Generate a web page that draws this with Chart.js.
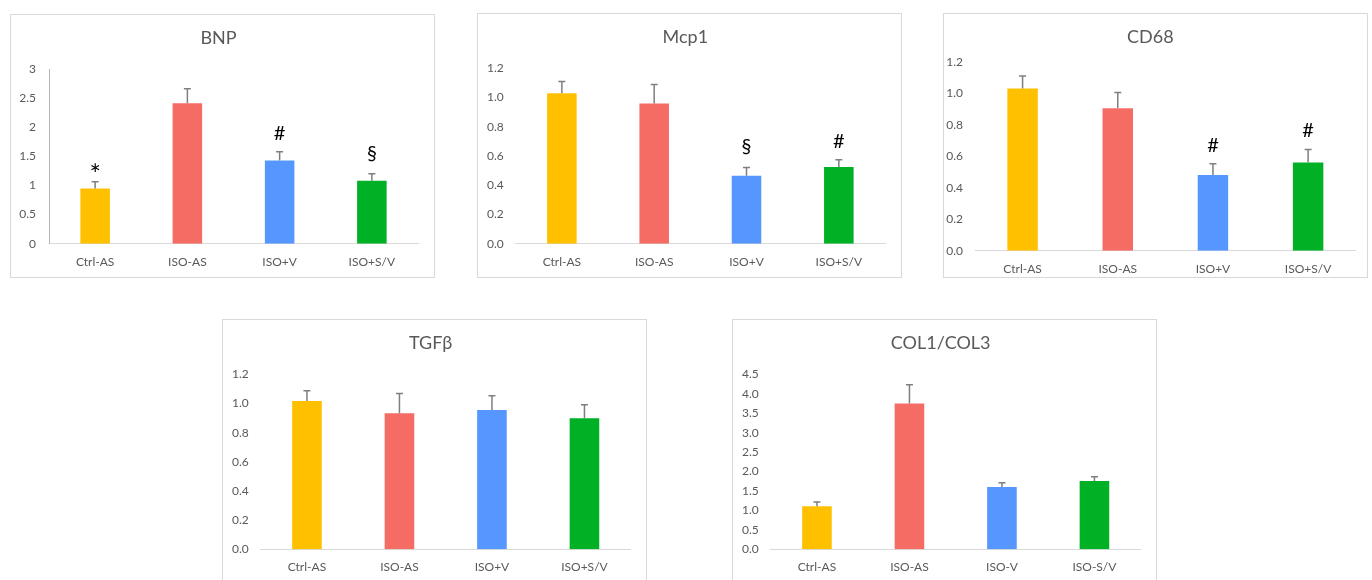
<!DOCTYPE html>
<html lang="en">
<head>
  <meta charset="UTF-8" />
  <title>Expression panels</title>
  <script src="https://cdn.jsdelivr.net/npm/chart.js"></script>
  <style>
    html, body { margin: 0; padding: 0; background: #fff; overflow: hidden; }
    body { width: 1372px; height: 580px; position: relative; }
    .panel { position: absolute; border: 1px solid #d9d9d9; background: #fff; }
    .panel canvas { position: absolute; left: 0; top: 0; }
  </style>
</head>
<body>

  <div class="panel" style="left:10px; top:14px; width:423px; height:262px;"><canvas id="bnp" width="423" height="262"></canvas></div>
  <div class="panel" style="left:477px; top:13px; width:423px; height:263px;"><canvas id="mcp1" width="423" height="263"></canvas></div>
  <div class="panel" style="left:943px; top:13px; width:423px; height:263px;"><canvas id="cd68" width="423" height="263"></canvas></div>
  <div class="panel" style="left:222px; top:319px; width:423px; height:262px;"><canvas id="tgfb" width="423" height="262"></canvas></div>
  <div class="panel" style="left:732px; top:319px; width:423px; height:262px;"><canvas id="col" width="423" height="262"></canvas></div>

  <script>
    // groups
    const groups = ["Ctrl-AS", "ISO-AS", "ISO+V", "ISO+S/V"];
    const colGroups = ["Ctrl-AS", "ISO-AS", "ISO-V", "ISO-S/V"];

    // means and error (upper bar only)
    const bnpMean = [0.95, 2.41, 1.43, 1.08];
    const bnpErr = [0.115, 0.25, 0.15, 0.12];
    const bnpMarks = ["*", "", "#", "§"];

    const mcp1Mean = [1.03, 0.96, 0.465, 0.525];
    const mcp1Err = [0.08, 0.13, 0.057, 0.05];
    const mcp1Marks = ["", "", "§", "#"];

    const cd68Mean = [1.03, 0.905, 0.48, 0.56];
    const cd68Err = [0.08, 0.10, 0.072, 0.083];
    const cd68Marks = ["", "", "#", "#"];

    const tgfMean = [1.017, 0.933, 0.955, 0.898];
    const tgfErr = [0.07, 0.135, 0.098, 0.094];

    const colMean = [1.105, 3.75, 1.60, 1.755];
    const colErr = [0.11, 0.48, 0.11, 0.11];

    const barColors = ["#FFC000", "#F46C63", "#5597FF", "#00B126"];
    const textGrey = "#595959";
    const FONT = "Lato, 'Open Sans', sans-serif";

    // symbol size and baseline lift above the error cap
    const markStyle = {
      "*": { size: 27, lift: -2 },
      "#": { size: 20, lift: 12 },
      "§": { size: 20, lift: 14 }
    };

    // error bars + significance marks
    const errorBarPlugin = {
      id: "errorBars",
      afterDatasetsDraw(chart, args, opts) {
        const ctx = chart.ctx;
        const yScale = chart.scales.y;
        const meta = chart.getDatasetMeta(0);
        const data = chart.data.datasets[0].data;
        ctx.save();
        meta.data.forEach((bar, i) => {
          const x = bar.x;
          const yTop = yScale.getPixelForValue(data[i] + opts.errors[i]);
          ctx.strokeStyle = "#7f7f7f";
          ctx.lineWidth = 1.5;
          ctx.beginPath();
          ctx.moveTo(x, bar.y);
          ctx.lineTo(x, yTop);
          ctx.moveTo(x - 3.5, yTop);
          ctx.lineTo(x + 3.5, yTop);
          ctx.stroke();
          const mark = opts.marks ? opts.marks[i] : "";
          if (mark) {
            const st = markStyle[mark];
            ctx.fillStyle = "#000";
            ctx.font = st.size + "px " + FONT;
            ctx.textAlign = "center";
            ctx.textBaseline = "alphabetic";
            ctx.fillText(mark, x, yTop - st.lift);
          }
        });
        ctx.restore();
      }
    };

    function makeChart(id, cfg) {
      const ctx = document.getElementById(id).getContext("2d");
      return new Chart(ctx, {
        type: "bar",
        data: {
          labels: cfg.labels,
          datasets: [{
            data: cfg.means,
            backgroundColor: barColors,
            borderWidth: 0,
            categoryPercentage: 0.32,
            barPercentage: 1
          }]
        },
        options: {
          responsive: false,
          animation: false,
          layout: { padding: cfg.padding },
          scales: {
            x: {
              grid: { display: false, drawTicks: false },
              border: { display: true, color: "#d9d9d9", width: 1 },
              ticks: { color: textGrey, font: { size: 12, family: FONT }, padding: 11, maxRotation: 0 },
              afterFit(scale) { scale.height = cfg.xHeight; }
            },
            y: {
              min: 0,
              max: cfg.max,
              grid: { display: false, drawTicks: false },
              border: { display: cfg.yLine, color: "#b3b3b3", width: 1 },
              ticks: {
                stepSize: cfg.step,
                color: textGrey,
                font: { size: 12, family: FONT },
                padding: cfg.yPad,
                callback: (v) => cfg.decimals ? Number(v).toFixed(cfg.decimals) : String(Math.round(v * 10) / 10)
              },
              afterFit(scale) { scale.width = 30; }
            }
          },
          plugins: {
            legend: { display: false },
            tooltip: { enabled: false },
            title: {
              display: true,
              text: cfg.title,
              color: textGrey,
              font: { size: 18, family: FONT, weight: "normal" },
              padding: { top: cfg.titleTop, bottom: cfg.titleBottom }
            },
            errorBars: { errors: cfg.errors, marks: cfg.marks }
          }
        },
        plugins: [errorBarPlugin]
      });
    }

    makeChart("bnp", {
      title: "BNP", labels: groups, means: bnpMean, errors: bnpErr, marks: bnpMarks,
      max: 3, step: 0.5, decimals: 0, yLine: true, yPad: 13,
      padding: { left: 8, right: 16, top: 0, bottom: 3.3 }, xHeight: 30,
      titleTop: 12.2, titleBottom: 20.2
    });

    makeChart("mcp1", {
      title: "Mcp1", labels: groups, means: mcp1Mean, errors: mcp1Err, marks: mcp1Marks,
      max: 1.2, step: 0.2, decimals: 1, yLine: false, yPad: 12,
      padding: { left: 7.7, right: 16, top: 0, bottom: 3.3 }, xHeight: 30,
      titleTop: 12.5, titleBottom: 20.2
    });

    makeChart("cd68", {
      title: "CD68", labels: groups, means: cd68Mean, errors: cd68Err, marks: cd68Marks,
      max: 1.2, step: 0.2, decimals: 1, yLine: false, yPad: 12,
      padding: { left: 1, right: 11.3, top: 0, bottom: 0.3 }, xHeight: 26,
      titleTop: 11.9, titleBottom: 14.2
    });

    makeChart("tgfb", {
      title: "TGFβ", labels: groups, means: tgfMean, errors: tgfErr, marks: null,
      max: 1.2, step: 0.2, decimals: 1, yLine: false, yPad: 12,
      padding: { left: 7.7, right: 15.3, top: 0, bottom: 2.7 }, xHeight: 30,
      titleTop: 12.5, titleBottom: 20.2
    });

    makeChart("col", {
      title: "COL1/COL3", labels: colGroups, means: colMean, errors: colErr, marks: null,
      max: 4.5, step: 0.5, decimals: 1, yLine: false, yPad: 12,
      padding: { left: 7.7, right: 15.3, top: 0, bottom: 2.7 }, xHeight: 30,
      titleTop: 12.5, titleBottom: 20.2
    });
  </script>
</body>
</html>
